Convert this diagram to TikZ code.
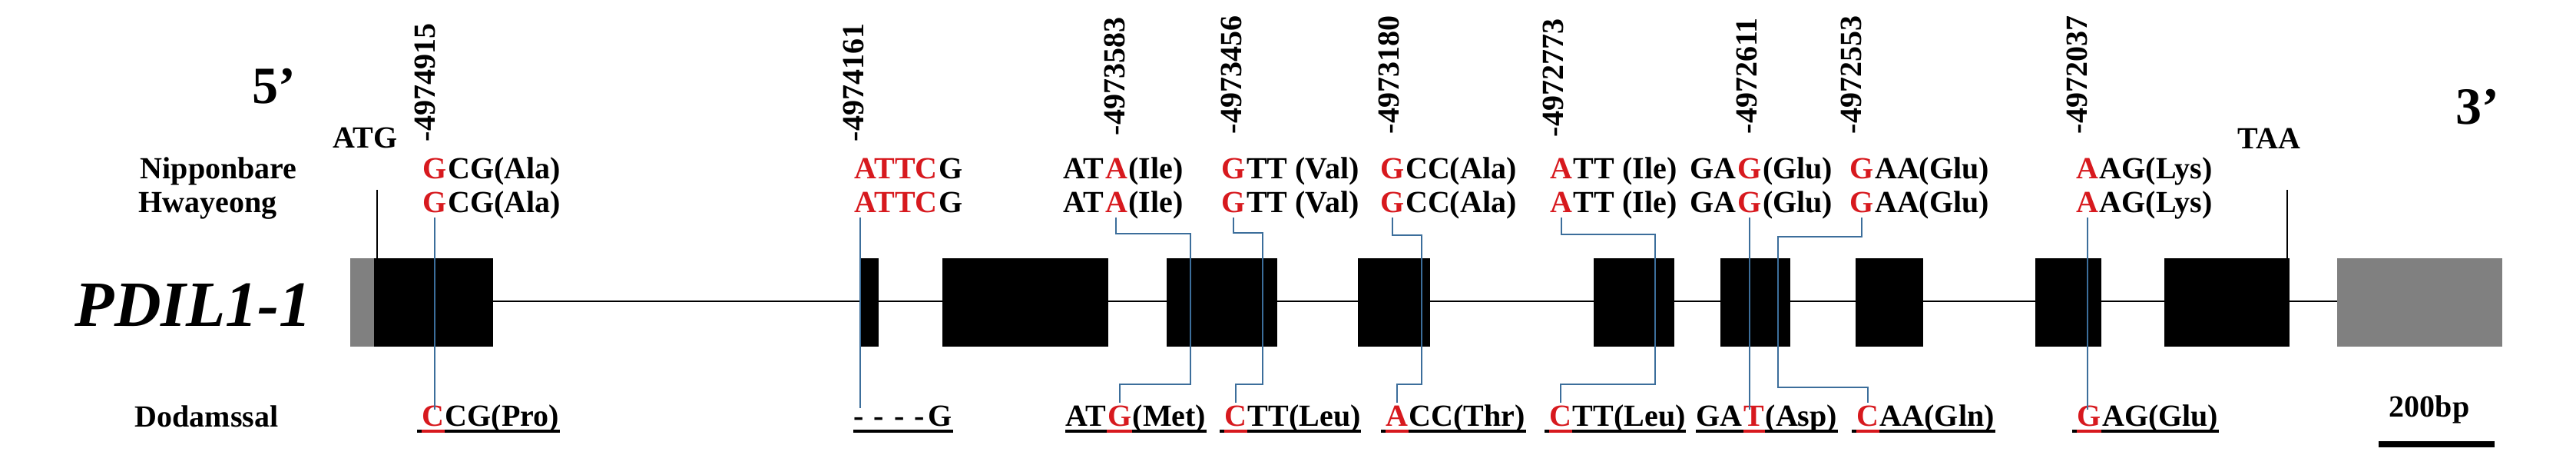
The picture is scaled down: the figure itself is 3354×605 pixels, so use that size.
\documentclass[tikz,border=0pt]{standalone}
\usepackage{fontspec}
\setmainfont{Liberation Serif}
\usetikzlibrary{calc}
\definecolor{snpred}{RGB}{215,25,30}
\definecolor{snpblue}{RGB}{60,110,155}
\definecolor{utrgray}{RGB}{128,128,128}
\newcommand\mkcodon[6]{% #1 name, #2 x, #3 baseline y, #4 pre, #5 red, #6 post
  \node[txt] (#1a) at (#2,#3) {#4};
  \node[txt,text=snpred] (#1r) at (#1a.base east) {#5};
  \node[txt] (#1c) at (#1r.base east) {#6};}
\newcommand\mkunder[1]{%
  \draw[ul] ([yshift=-1.5pt]#1a.base west) -- ([yshift=-1.5pt]#1a.base east);
  \draw[ul,draw=snpred] ([yshift=-1.5pt]#1r.base west) -- ([yshift=-1.5pt]#1r.base east);
  \draw[ul] ([yshift=-1.5pt]#1c.base west) -- ([yshift=-1.5pt]#1c.base east);}
\begin{document}
\begin{tikzpicture}[x=0.25pt,y=-0.25pt,
  txt/.style={font=\fontsize{10}{12}\selectfont\bfseries, inner sep=0pt, anchor=base west},
  num/.style={font=\fontsize{10}{12}\selectfont\bfseries, inner sep=0pt, rotate=90, anchor=west},
  big/.style={font=\fontsize{17}{20}\selectfont\bfseries, inner sep=0pt, anchor=base west},
  exon/.style={fill=black},
  utr/.style={fill=utrgray},
  gline/.style={draw=black, line width=0.5pt},
  mline/.style={draw=black, line width=0.4pt},
  snp/.style={draw=snpblue, line width=0.5pt},
  ul/.style={draw=black, line width=1pt}]
\useasboundingbox (0,0) rectangle (3354,605);

% gene structure
\coordinate (g0) at (642,392);
\coordinate (g1) at (3043,392);
\draw[gline] (g0) -- (g1);
\path[utr] (456,336) rectangle (487,451);
\foreach \a/\b in {487/642,1121/1144,1227/1443,1519/1663,1768/1862,2075/2180,2240/2331,2416/2504,2650/2736,2818/2981}
  {\path[exon] (\a,336) rectangle (\b,451);}
\path[utr] (3043,336) rectangle (3258,451);

% start / stop markers
\node[txt,anchor=base east] (atg) at (518,193) {ATG};
\node[txt] (taa) at (2913,194) {TAA};
\coordinate (atgtop) at (491,247);
\coordinate (atgbot) at (491,336);
\coordinate (taatop) at (2978,247);
\coordinate (taabot) at (2978,336);
\draw[mline] (atgtop) -- (atgbot);
\draw[mline] (taatop) -- (taabot);

% ends and gene name
\node[big] (five) at (328,135) {5’};
\node[big] (three) at (3197,162) {3’};
\node[font=\fontsize{21}{25}\selectfont\bfseries\itshape, inner sep=0pt, anchor=base west] (gene) at (97,425) {PDIL1-1};

% cultivar labels
\node[txt] (nip) at (182,233) {Nipponbare};
\node[txt] (hwa) at (180,277) {Hwayeong};
\node[txt] (dod) at (175,556) {Dodamssal};

% positions
\node[num] (m1) at (553,185) {-4974915};
\node[num] (m2) at (1111,185) {-4974161};
\node[num] (m3) at (1451,177) {-4973583};
\node[num] (m4) at (1603,175) {-4973456};
\node[num] (m5) at (1808,175) {-4973180};
\node[num] (m6) at (2022,179) {-4972773};
\node[num] (m7) at (2274,175) {-4972611};
\node[num] (m8) at (2410,175) {-4972553};
\node[num] (m9) at (2704,175) {-4972037};

% Nipponbare / Hwayeong codons
\foreach \r/\y in {n/233,w/277}{
  \mkcodon{\r1}{544}{\y}{}{G}{CG(Ala)}
  \mkcodon{\r2}{1106}{\y}{}{ATTC}{G}
  \mkcodon{\r3}{1384}{\y}{AT}{A}{(Ile)}
  \mkcodon{\r4}{1584}{\y}{}{G}{TT (Val)}
  \mkcodon{\r5}{1791}{\y}{}{G}{CC(Ala)}
  \mkcodon{\r6}{2012}{\y}{}{A}{TT (Ile)}
  \mkcodon{\r7}{2200}{\y}{GA}{G}{(Glu)}
  \mkcodon{\r8}{2402}{\y}{}{G}{AA(Glu)}
  \mkcodon{\r9}{2697}{\y}{}{A}{AG(Lys)}
}

% Dodamssal codons
\mkcodon{d1}{543}{555}{}{C}{CG(Pro)}
\node[txt] (d2) at (1111,555) {-\hspace{0.32em}-\hspace{0.32em}-\hspace{0.32em}-\hspace{0.13em}G};
\mkcodon{d3}{1387}{555}{AT}{G}{(Met)}
\mkcodon{d4}{1588}{555}{}{C}{TT(Leu)}
\mkcodon{d5}{1798}{555}{}{A}{CC(Thr)}
\mkcodon{d6}{2011}{555}{}{C}{TT(Leu)}
\mkcodon{d7}{2208}{555}{GA}{T}{(Asp)}
\mkcodon{d8}{2411}{555}{}{C}{AA(Gln)}
\mkcodon{d9}{2698}{555}{}{G}{AG(Glu)}
\foreach \k in {1,3,4,5,6,7,8,9}{\mkunder{d\k}}
\draw[ul] ([yshift=-1.5pt]d2.base west) -- ([yshift=-1.5pt]d2.base east);

% SNP connectors
\draw[snp] ([yshift=-1.2pt]w1r.south) -- ([yshift=-1.2pt]w1r.south |- d1r.north);
\draw[snp] ([xshift=2pt,yshift=-1.2pt]w2r.south west) -- ([xshift=2pt,yshift=-0.8pt]w2r.south west |- d2.north);
\draw[snp] ([yshift=-1.2pt]w3r.south) |- (1550,304) |- ([yshift=7pt]d3r.north) -- ([yshift=1pt]d3r.north);
\draw[snp] ([yshift=-1.2pt]w4r.south) |- (1644,303) |- ([yshift=7pt]d4r.north) -- ([yshift=1pt]d4r.north);
\draw[snp] ([yshift=-1.2pt]w5r.south) |- (1851,306) |- ([yshift=7pt]d5r.north) -- ([yshift=1pt]d5r.north);
\draw[snp] ([yshift=-1.2pt]w6r.south) |- (2155,305) |- ([yshift=7pt]d6r.north) -- ([yshift=1pt]d6r.north);
\draw[snp] ([yshift=-1.2pt]w7r.south) -- ([yshift=-1.2pt]w7r.south |- d7r.north);
\draw[snp] ([yshift=-1.2pt]w8r.south) |- (2315,308) |- ([yshift=6pt]d8r.north) -- ([yshift=1pt]d8r.north);
\draw[snp] ([yshift=-1.2pt]w9r.south) -- ([yshift=-1.2pt]w9r.south |- d9r.north);

% scale bar
\node[txt] (sbl) at (3110,543) {200bp};
\coordinate (sb1) at (3097,578);
\coordinate (sb2) at (3248,578);
\draw[line width=2pt] (sb1) -- (sb2);
\end{tikzpicture}
\end{document}
